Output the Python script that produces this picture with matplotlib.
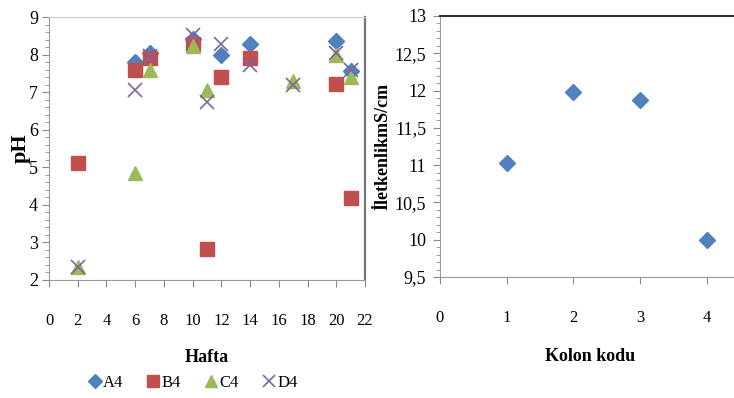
import numpy as np
import matplotlib
matplotlib.use("Agg")
import matplotlib.pyplot as plt
from matplotlib.ticker import MultipleLocator

plt.rcParams['font.family'] = ['Liberation Serif', 'DejaVu Serif']

# pH values by week (Hafta)
a4_hafta = [6, 7, 10, 12, 14, 20, 21]
a4_ph = [7.8, 8.05, 8.42, 7.98, 8.27, 8.37, 7.55]
b4_hafta = [2, 6, 7, 10, 11, 12, 14, 20, 21]
b4_ph = [5.12, 7.6, 7.9, 8.27, 2.83, 7.4, 7.92, 7.22, 4.17]
c4_hafta = [2, 6, 7, 10, 11, 17, 20, 21]
c4_ph = [2.34, 4.85, 7.6, 8.22, 7.05, 7.3, 8.0, 7.4]
d4_hafta = [2, 6, 7, 10, 11, 12, 14, 17, 20, 21]
d4_ph = [2.35, 7.05, 7.95, 8.53, 6.75, 8.27, 7.72, 7.2, 8.05, 7.6]

# conductivity by column code
kolon = [1, 2, 3, 4]
iletkenlik = [11.03, 11.98, 11.87, 10.0]

series = [
    ("A4", a4_hafta, a4_ph, "D", "#4F81BD", 8),
    ("B4", b4_hafta, b4_ph, "s", "#C0504D", 10),
    ("C4", c4_hafta, c4_ph, "^", "#9BBB59", 10),
    ("D4", d4_hafta, d4_ph, "x", "#8064A2", 10),
]

W, H = 734, 398
fig = plt.figure(figsize=(W / 100, H / 100), dpi=100)

def frac(x0, y0, x1, y1):
    return [x0 / W, 1 - y1 / H, (x1 - x0) / W, (y1 - y0) / H]

#%% left: pH
ax1 = fig.add_axes(frac(49, 17, 365, 280))
for name, x, y, m, c, s in series:
    if m == "x":
        ax1.plot(x, y, ls="none", marker=m, color=c, ms=s, mew=1.2, label=name)
    else:
        ax1.plot(x, y, ls="none", marker=m, color=c, ms=s, mec=c, label=name)

ax1.set_xlim(0, 22)
ax1.set_ylim(2, 9)
ax1.xaxis.set_major_locator(MultipleLocator(2))
ax1.yaxis.set_major_locator(MultipleLocator(1))
ax1.yaxis.set_minor_locator(MultipleLocator(0.2))
ax1.tick_params(axis="x", direction="out", length=5, pad=19, labelsize=12, color="#888888")
ax1.tick_params(axis="y", which="major", direction="out", length=5, pad=3, labelsize=13, color="#888888")
ax1.tick_params(axis="y", which="minor", direction="out", length=3, color="#888888")
for side in ["left", "bottom"]:
    ax1.spines[side].set_color("#999999")
ax1.spines["top"].set_color("#cccccc")
ax1.spines["right"].set_color("#777777")
ax1.spines["right"].set_linewidth(1.6)

ax1.set_ylabel("pH", fontsize=16, fontweight="bold", va="center")
ax1.yaxis.set_label_coords(-0.09, 0.5)
ax1.set_xlabel("Hafta", fontsize=13, fontweight="bold", va="center")
ax1.xaxis.set_label_coords(0.5, -0.293)

fig.legend(loc="center", bbox_to_anchor=(192 / W, 1 - 383 / H), ncol=4, frameon=False,
           fontsize=12, handletextpad=0.0, columnspacing=1.3, markerscale=0.85,
           handlelength=1.0)

#%% right: conductivity
ax2 = fig.add_axes(frac(440, 16, 740, 277))
ax2.plot(kolon, iletkenlik, ls="none", marker="D", color="#4F81BD", ms=8)
ax2.set_xlim(0, 4.5)
ax2.set_ylim(9.5, 13)
ax2.set_xticks([0, 1, 2, 3, 4])
ax2.yaxis.set_major_locator(MultipleLocator(0.5))
ax2.yaxis.set_minor_locator(MultipleLocator(0.1))
ax2.yaxis.set_major_formatter(lambda v, p: f"{v:g}".replace(".", ","))
ax2.tick_params(axis="x", direction="out", length=5, pad=19, labelsize=12, color="#888888")
ax2.tick_params(axis="y", which="major", direction="out", length=5, pad=5, labelsize=13, color="#888888")
ax2.tick_params(axis="y", which="minor", direction="out", length=3, color="#888888")
for side in ["left", "bottom"]:
    ax2.spines[side].set_color("#999999")
ax2.spines["top"].set_color("#333333")
ax2.spines["top"].set_linewidth(1.5)
ax2.spines["right"].set_visible(False)

# label sits just left of the tick labels
ax2.set_ylabel("İletkenlikmS/cm", fontsize=13, fontweight="bold", va="center")
ax2.yaxis.set_label_coords(-0.19, 0.5)
ax2.set_xlabel("Kolon kodu", fontsize=13, fontweight="bold", va="center")
ax2.xaxis.set_label_coords(0.5, -0.306)

fig.savefig("out.png", dpi=100)
